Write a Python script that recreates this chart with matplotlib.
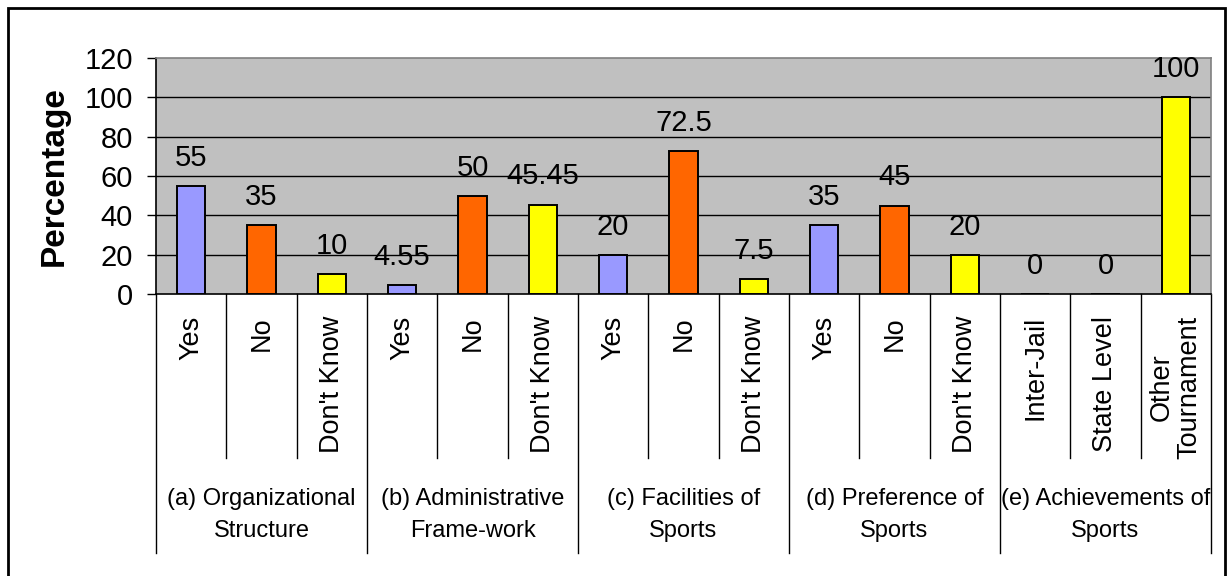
import matplotlib
matplotlib.use("Agg")
import matplotlib.pyplot as plt
import matplotlib.transforms as mtransforms
from matplotlib.patches import Rectangle

# ---- data ----
categories = ["Yes", "No", "Don't Know",
              "Yes", "No", "Don't Know",
              "Yes", "No", "Don't Know",
              "Yes", "No", "Don't Know",
              "Inter-Jail", "State Level", "Other\nTournament"]
values = [55, 35, 10,
          4.55, 50, 45.45,
          20, 72.5, 7.5,
          35, 45, 20,
          0, 0, 100]
groups = ["(a) Organizational\nStructure",
          "(b) Administrative\nFrame-work",
          "(c) Facilities of\nSports",
          "(d) Preference of\nSports",
          "(e) Achievements of\nSports"]
y_ticks = [0, 20, 40, 60, 80, 100, 120]

BLUE, ORANGE, YELLOW = "#9999FF", "#FF6600", "#FFFF00"
bar_colors = [BLUE, ORANGE, YELLOW] * 4 + [BLUE, ORANGE, YELLOW]

FONT = ["Liberation Sans", "DejaVu Sans"]

W, H = 1229, 576
fig = plt.figure(figsize=(W / 100, H / 100), dpi=100)
ax = fig.add_axes([156 / W, 1 - 294 / H, (1211 - 156) / W, (294 - 58) / H])
ax.set_facecolor("#C0C0C0")

x = list(range(len(values)))
ax.bar(x, values, width=0.4, color=bar_colors, edgecolor="black",
       linewidth=1.4, zorder=3)

for xi, v in zip(x, values):
    ax.annotate(f"{v:g}", (xi, v), xytext=(0, 14.5), textcoords="offset points",
                ha="center", va="baseline", fontsize=21, family=FONT,
                zorder=4)

ax.set_xlim(-0.5, len(values) - 0.5)
ax.set_ylim(0, 120)
ax.set_yticks(y_ticks)
ax.set_yticklabels([str(t) for t in y_ticks], family=FONT, fontsize=21)
ax.tick_params(axis="y", length=6.5, width=1, pad=10, color="black")
ax.set_xticks([])
for yv in y_ticks[1:-1]:
    ax.axhline(yv, color="black", lw=1, zorder=1)

ax.spines["top"].set_color("#808080")
ax.spines["right"].set_color("#808080")
ax.spines["left"].set_color("black")
ax.spines["bottom"].set_color("black")
for s in ax.spines.values():
    s.set_linewidth(1.2)

ax.set_ylabel("Percentage", family=FONT, fontsize=24, fontweight="bold")
ax.yaxis.set_label_coords((70 - 156) / (1211 - 156), 0.5)

# category separators below the axis
trans = mtransforms.blended_transform_factory(ax.transData, fig.transFigure)
y_axis = 1 - 294 / H
y_short = 1 - 458 / H
y_long = 1 - 553 / H
for k in range(len(values) + 1):
    xb = k - 0.5
    y_end = y_long if k % 3 == 0 else y_short
    ax.plot([xb, xb], [y_axis, y_end], color="black", lw=1,
            transform=trans, clip_on=False)

# category labels
for xi, lab in zip(x, categories):
    ax.text(xi, 1 - 316 / H, lab, transform=trans, rotation=90,
            ha="center", va="top", fontsize=19.5, family=FONT,
            multialignment="center", linespacing=1.1)

# group labels
for g, lab in enumerate(groups):
    ax.text(g * 3 + 1, 1 - 515 / H, lab, transform=trans, ha="center",
            va="center", fontsize=17, family=FONT, linespacing=1.6,
            multialignment="center")

# outer border
fig.patches.append(Rectangle((8 / W, -0.05), (1225 - 8) / W, 1.05 - 8 / H,
                             transform=fig.transFigure, fill=False,
                             edgecolor="black", lw=2))

fig.savefig("out.png", dpi=100, facecolor="white")
